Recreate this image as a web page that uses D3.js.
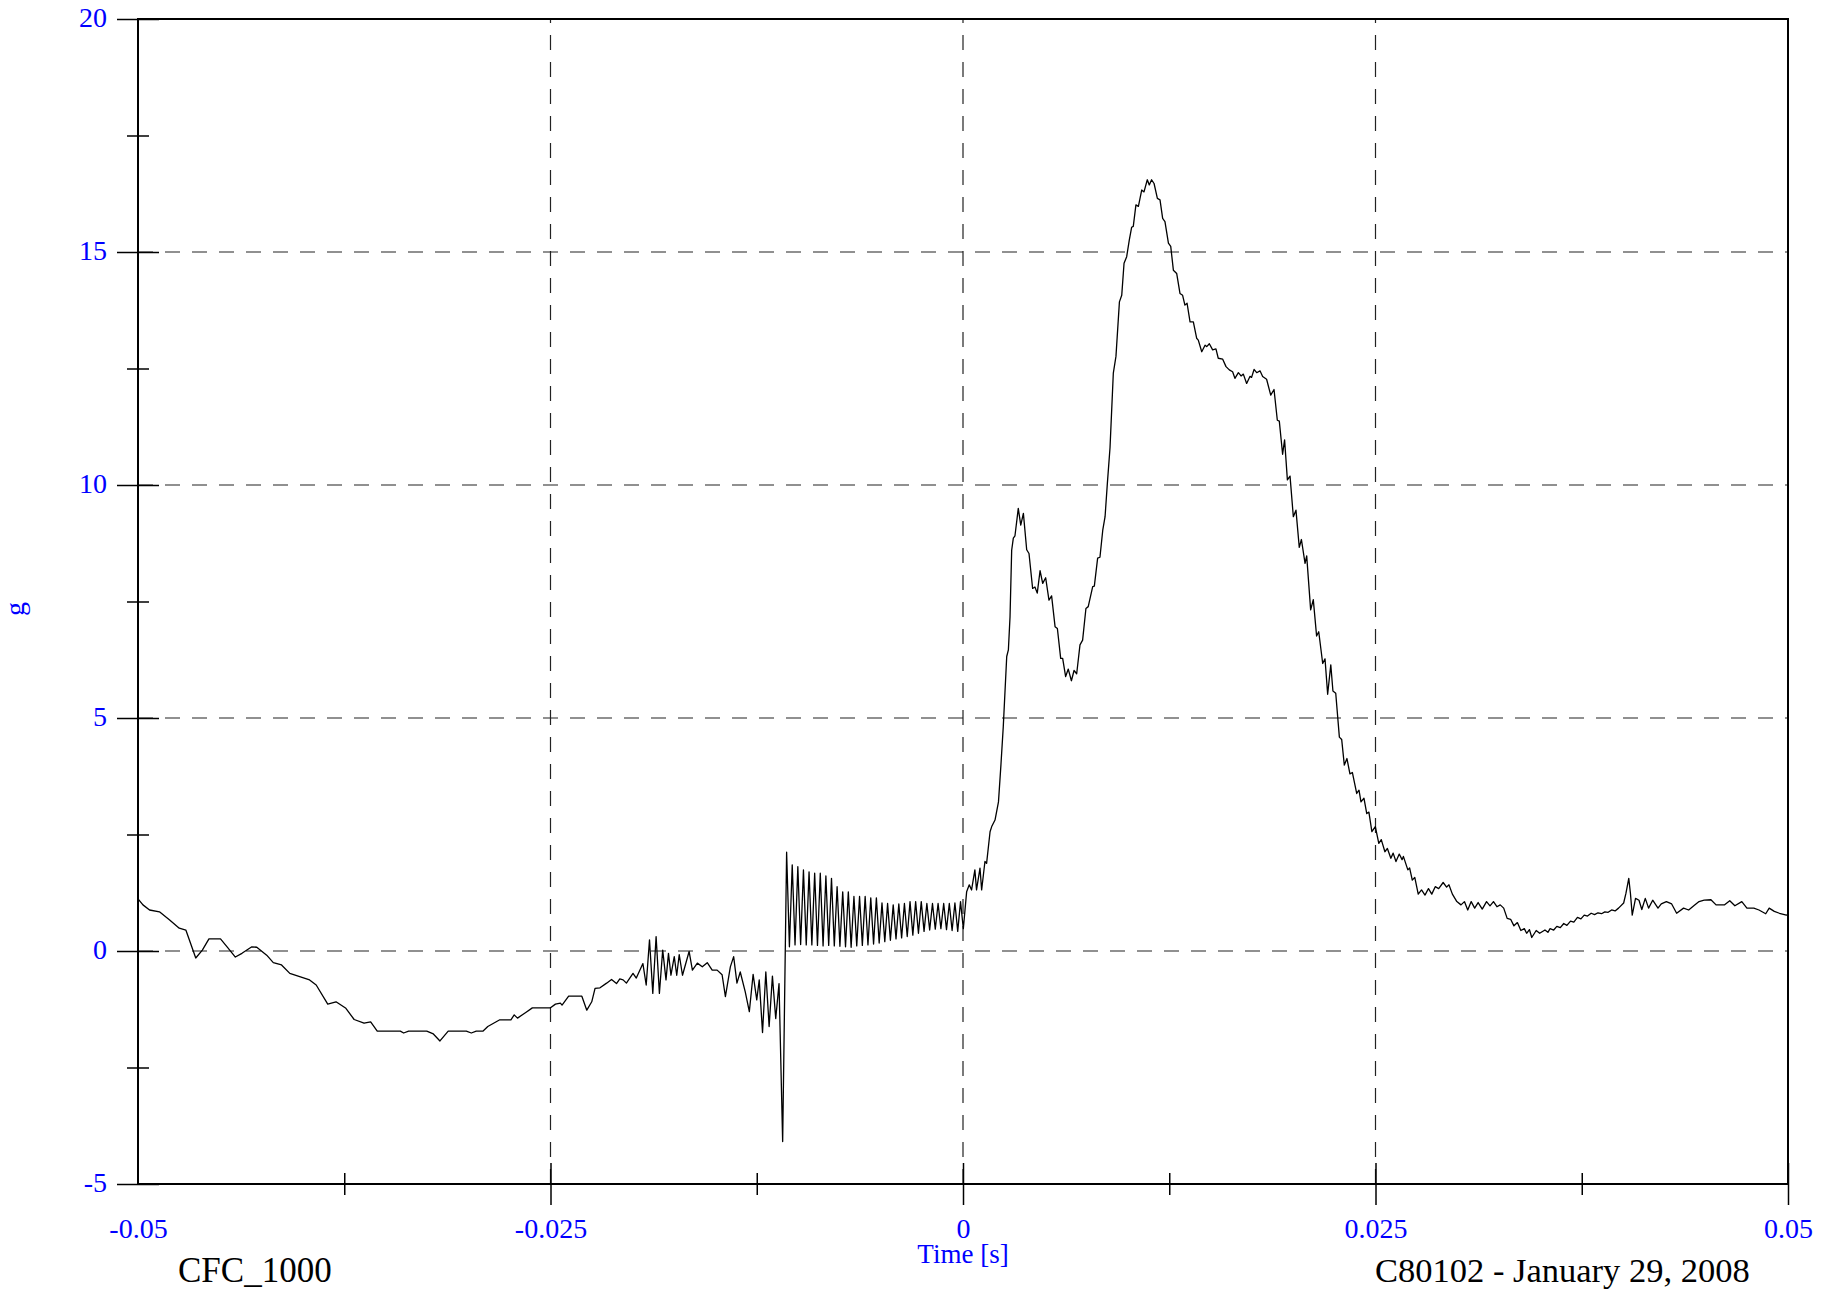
<!DOCTYPE html>
<html><head><meta charset="utf-8">
<script src="https://cdn.jsdelivr.net/npm/d3@7"></script>
<style>body{margin:0;background:#fff}</style>
</head><body>
<svg id="chart" width="1837" height="1292"></svg>
<script>
// time in milliseconds, acceleration in g
const signal = [
[-50.0,1.12],[-49.7,0.99],[-49.3,0.88],[-48.7,0.84],[-48.1,0.67],[-47.5,0.49],[-47.1,0.45],[-46.5,-0.15],
[-46.1,0.02],[-45.7,0.26],[-45.0,0.26],[-44.6,0.09],[-44.1,-0.13],[-43.7,-0.05],[-43.1,0.09],[-42.8,0.08],
[-42.2,-0.09],[-41.8,-0.25],[-41.3,-0.30],[-40.8,-0.48],[-40.2,-0.55],[-39.6,-0.62],[-39.2,-0.73],[-38.5,-1.14],
[-38.0,-1.09],[-37.4,-1.23],[-36.9,-1.47],[-36.3,-1.55],[-35.9,-1.52],[-35.5,-1.72],[-34.1,-1.72],[-33.9,-1.76],
[-33.6,-1.72],[-32.5,-1.72],[-32.1,-1.78],[-31.7,-1.93],[-31.2,-1.72],[-30.1,-1.72],[-29.8,-1.76],[-29.5,-1.72],
[-29.1,-1.72],[-28.8,-1.62],[-28.1,-1.48],[-27.4,-1.48],[-27.2,-1.37],[-27.0,-1.44],[-26.5,-1.32],[-26.1,-1.22],
[-25.0,-1.22],[-24.7,-1.14],[-24.4,-1.12],[-24.3,-1.16],[-23.9,-0.97],[-23.1,-0.97],[-22.8,-1.27],[-22.5,-1.09],
[-22.3,-0.80],[-22.0,-0.79],[-21.6,-0.69],[-21.3,-0.61],[-21.0,-0.70],[-20.8,-0.60],[-20.6,-0.62],[-20.4,-0.69],
[-20.0,-0.48],[-19.8,-0.58],[-19.4,-0.27],[-19.2,-0.73],[-19.0,0.24],[-18.8,-0.91],[-18.6,0.31],[-18.4,-0.91],
[-18.2,0.02],[-18.0,-0.62],[-17.85,-0.05],[-17.7,-0.52],[-17.5,-0.12],[-17.35,-0.52],[-17.2,-0.08],[-17.0,-0.52],
[-16.6,-0.01],[-16.4,-0.41],[-16.1,-0.26],[-15.8,-0.34],[-15.5,-0.25],[-15.2,-0.41],[-14.9,-0.41],[-14.6,-0.51],
[-14.4,-0.98],[-14.1,-0.34],[-13.9,-0.12],[-13.7,-0.69],[-13.5,-0.45],[-13.2,-0.87],[-12.95,-1.30],[-12.72,-0.50],
[-12.5,-1.05],[-12.35,-0.62],[-12.15,-1.75],[-11.95,-0.45],[-11.75,-1.62],[-11.55,-0.54],[-11.35,-1.45],[-11.15,-0.70],
[-10.93,-4.09],[-10.69,2.12],
[-10.52,0.09],[-10.35,1.85],[-10.18,0.13],[-10.01,1.81],[-9.84,0.14],[-9.67,1.74],[-9.50,0.13],[-9.33,1.70],
[-9.16,0.13],[-8.99,1.67],[-8.82,0.12],[-8.65,1.67],[-8.48,0.11],[-8.31,1.61],[-8.14,0.12],[-7.97,1.56],
[-7.80,0.11],[-7.63,1.38],[-7.46,0.10],[-7.29,1.27],[-7.12,0.09],[-6.95,1.27],[-6.78,0.08],[-6.61,1.17],
[-6.44,0.11],[-6.27,1.17],[-6.10,0.12],[-5.93,1.17],[-5.76,0.13],[-5.59,1.14],[-5.42,0.15],[-5.25,1.14],
[-5.08,0.17],[-4.91,1.03],[-4.74,0.20],[-4.57,1.02],[-4.40,0.23],[-4.23,0.99],[-4.06,0.26],[-3.89,1.01],
[-3.72,0.28],[-3.55,1.02],[-3.38,0.31],[-3.21,1.06],[-3.04,0.34],[-2.87,1.06],[-2.70,0.38],[-2.53,1.06],
[-2.36,0.42],[-2.19,1.02],[-2.02,0.45],[-1.85,1.02],[-1.68,0.47],[-1.51,1.02],[-1.34,0.48],[-1.17,1.02],
[-1.00,0.46],[-0.83,1.02],[-0.66,0.44],[-0.49,1.03],[-0.32,0.42],[-0.15,1.06],[0.02,0.48],
[0.22,1.27],[0.38,1.42],[0.52,1.31],[0.72,1.74],[0.82,1.31],[1.03,1.78],[1.13,1.31],[1.33,1.92],
[1.43,1.88],[1.64,2.56],[1.74,2.67],[1.94,2.81],[2.15,3.2],[2.30,4.0],[2.44,4.81],[2.65,6.32],
[2.75,6.46],[2.85,7.17],[2.95,8.6],[3.05,8.86],[3.15,8.91],[3.35,9.50],[3.50,9.14],[3.66,9.39],
[3.86,8.61],[4.00,8.53],[4.22,7.78],[4.36,7.81],[4.50,7.68],[4.67,8.16],[4.83,7.89],[5.01,8.01],
[5.21,7.53],[5.37,7.62],[5.58,6.96],[5.72,6.92],[5.92,6.28],[6.04,6.28],[6.22,5.89],[6.38,6.05],
[6.57,5.80],[6.73,6.02],[6.89,5.95],[7.09,6.57],[7.25,6.67],[7.45,7.35],[7.59,7.39],[7.86,7.82],
[7.96,7.83],[8.16,8.43],[8.30,8.45],[8.47,9.03],[8.61,9.32],[8.75,10.04],[8.91,10.8],[9.11,12.40],
[9.27,12.76],[9.48,13.93],[9.62,14.07],[9.76,14.76],[9.92,14.90],[10.08,15.26],[10.22,15.53],[10.32,15.55],
[10.48,16.01],[10.63,15.98],[10.83,16.33],[10.97,16.29],[11.17,16.55],[11.29,16.44],[11.43,16.55],[11.58,16.47],
[11.78,16.15],[11.94,16.12],[12.10,15.72],[12.24,15.65],[12.45,15.19],[12.59,15.12],[12.75,14.61],[12.95,14.54],
[13.15,14.11],[13.31,14.07],[13.45,13.86],[13.58,13.90],[13.76,13.50],[13.96,13.50],[14.16,13.15],[14.26,13.11],
[14.47,12.86],[14.67,13.00],[14.77,12.97],[14.93,13.03],[15.13,12.90],[15.33,12.92],[15.47,12.72],[15.74,12.70],
[15.94,12.54],[16.14,12.47],[16.34,12.43],[16.48,12.29],[16.69,12.41],[16.85,12.34],[16.99,12.38],[17.19,12.18],
[17.39,12.33],[17.49,12.31],[17.64,12.48],[17.80,12.41],[18.00,12.45],[18.16,12.33],[18.40,12.27],[18.65,11.93],
[18.85,12.05],[19.05,11.39],[19.17,11.37],[19.37,10.66],[19.49,10.97],[19.66,10.11],[19.82,10.19],[20.02,9.32],
[20.18,9.46],[20.38,8.66],[20.51,8.83],[20.73,8.32],[20.83,8.48],[21.07,7.32],[21.23,7.54],[21.43,6.76],
[21.56,6.85],[21.80,6.17],[21.94,6.27],[22.10,5.51],[22.29,6.14],[22.42,5.58],[22.59,5.53],[22.81,4.59],
[22.95,4.54],[23.11,3.99],[23.27,4.13],[23.45,3.80],[23.60,3.83],[23.86,3.38],[24.00,3.45],[24.12,3.20],
[24.30,3.28],[24.47,2.95],[24.60,2.98],[24.78,2.56],[24.99,2.67],[25.20,2.31],[25.35,2.39],[25.57,2.13],
[25.72,2.20],[25.93,1.99],[26.07,2.10],[26.24,1.92],[26.44,2.08],[26.61,1.96],[26.69,2.03],[26.96,1.74],
[27.07,1.78],[27.23,1.52],[27.38,1.58],[27.59,1.22],[27.79,1.31],[28.00,1.20],[28.21,1.34],[28.41,1.22],
[28.62,1.38],[28.83,1.34],[29.10,1.47],[29.31,1.37],[29.45,1.42],[29.66,1.22],[29.93,1.06],[30.18,0.99],
[30.39,1.06],[30.59,0.88],[30.80,1.06],[31.01,0.92],[31.22,1.04],[31.47,0.90],[31.73,1.06],[31.94,0.97],
[32.15,1.06],[32.36,0.95],[32.56,0.99],[32.77,0.92],[32.98,0.70],[33.19,0.68],[33.39,0.54],[33.60,0.61],
[33.81,0.44],[34.02,0.48],[34.16,0.38],[34.33,0.46],[34.47,0.29],[34.74,0.44],[34.95,0.38],[35.27,0.45],
[35.45,0.40],[35.58,0.48],[35.80,0.45],[35.99,0.53],[36.20,0.50],[36.41,0.59],[36.60,0.55],[36.82,0.64],
[37.02,0.62],[37.24,0.72],[37.45,0.69],[37.65,0.77],[37.85,0.75],[38.07,0.81],[38.28,0.78],[38.48,0.82],
[38.70,0.80],[38.90,0.84],[39.10,0.83],[39.31,0.88],[39.52,0.86],[39.73,0.92],
[40.04,1.03],[40.18,1.24],[40.35,1.56],[40.45,1.24],[40.56,0.77],
[40.76,1.13],[40.97,1.09],[41.14,0.89],[41.35,1.13],[41.55,0.92],[41.80,1.09],[42.12,0.92],[42.32,1.01],
[42.63,1.06],[42.95,1.01],[43.25,0.81],[43.67,0.92],[43.98,0.88],[44.29,0.97],[44.61,1.06],[44.92,1.09],
[45.33,1.10],[45.64,0.99],[46.16,0.99],[46.47,1.08],[46.78,0.97],[47.20,1.06],[47.51,0.92],[47.93,0.92],
[48.24,0.88],[48.65,0.80],[48.86,0.92],[49.17,0.85],[49.48,0.81],[49.90,0.77],[50.00,0.78]
];

const xMajorTicks = [-0.05, -0.025, 0, 0.025, 0.05];
const xTickLabels = ["-0.05", "-0.025", "0", "0.025", "0.05"];
const xMinorTicks = [-0.0375, -0.0125, 0.0125, 0.0375];
const yMajorTicks = [-5, 0, 5, 10, 15, 20];
const yTickLabels = ["-5", "0", "5", "10", "15", "20"];
const yMinorTicks = [-2.5, 2.5, 7.5, 12.5, 17.5];
const xGridValues = [-0.025, 0, 0.025];
const yGridValues = [0, 5, 10, 15];

const FONT = "'Liberation Serif','Times New Roman',serif";
const BLUE = "#0000ff";
const L = 138, R = 1788, T = 19, B = 1184;

const svg = d3.select("#chart");
svg.append("rect").attr("width",1837).attr("height",1292).attr("fill","#fff");

const x = d3.scaleLinear().domain([-0.05, 0.05]).range([L, R]);
const y = d3.scaleLinear().domain([-5, 20]).range([B, T]);

// grid
const grid = svg.append("g").attr("stroke","#222").attr("stroke-width",1.2).attr("stroke-dasharray","15,12").attr("fill","none");
grid.selectAll("line.v").data(xGridValues).enter().append("line")
  .attr("x1", d => x(d)).attr("x2", d => x(d)).attr("y1", y(-5)).attr("y2", y(20));
grid.selectAll("line.h").data(yGridValues).enter().append("line")
  .attr("x1", x(-0.05)).attr("x2", x(0.05)).attr("y1", d => y(d)).attr("y2", d => y(d));

// signal
const line = d3.line().x(d => x(d[0] / 1000)).y(d => y(d[1]));
svg.append("path").datum(signal).attr("d", line)
  .attr("fill","none").attr("stroke","#000").attr("stroke-width",1.3).attr("stroke-linejoin","round");

// frame
svg.append("rect").attr("x", L).attr("y", T).attr("width", R - L).attr("height", B - T)
  .attr("fill","none").attr("stroke","#000").attr("stroke-width",2);

// x axis major
const xAxis = svg.append("g").attr("transform", `translate(0,${B})`)
  .call(d3.axisBottom(x).tickValues(xMajorTicks).tickSize(21).tickPadding(13)
    .tickFormat((d, i) => xTickLabels[i]));
xAxis.select(".domain").remove();
xAxis.selectAll(".tick line").attr("y1", -21).attr("y2", 21).attr("stroke","#000").attr("stroke-width",1.5)
  .attr("opacity", d => d === -0.05 ? 0 : 1);
xAxis.selectAll(".tick text").attr("fill", BLUE).attr("font-family", FONT).attr("font-size", 28);

// x axis minor
const xMinor = svg.append("g").attr("transform", `translate(0,${B})`)
  .call(d3.axisBottom(x).tickValues(xMinorTicks).tickSize(11).tickFormat(""));
xMinor.select(".domain").remove();
xMinor.selectAll(".tick line").attr("y1", -11).attr("y2", 11).attr("stroke","#000").attr("stroke-width",1.5);

// y axis major
const yAxis = svg.append("g").attr("transform", `translate(${L},0)`)
  .call(d3.axisLeft(y).tickValues(yMajorTicks).tickSize(21).tickPadding(10)
    .tickFormat((d, i) => yTickLabels[i]));
yAxis.select(".domain").remove();
yAxis.selectAll(".tick line").attr("x1", 21).attr("x2", -21).attr("stroke","#000").attr("stroke-width",1.5);
yAxis.selectAll(".tick text").attr("fill", BLUE).attr("font-family", FONT).attr("font-size", 28).attr("dy","0.25em");

// y axis minor
const yMinor = svg.append("g").attr("transform", `translate(${L},0)`)
  .call(d3.axisLeft(y).tickValues(yMinorTicks).tickSize(11).tickFormat(""));
yMinor.select(".domain").remove();
yMinor.selectAll(".tick line").attr("x1", 11).attr("x2", -11).attr("stroke","#000").attr("stroke-width",1.5);

// titles
svg.append("text").attr("x", (L + R) / 2).attr("y", 1263).attr("text-anchor","middle")
  .attr("fill", BLUE).attr("font-family", FONT).attr("font-size", 27).text("Time [s]");
svg.append("text").attr("transform","translate(24,609) rotate(-90)").attr("text-anchor","middle")
  .attr("fill", BLUE).attr("font-family", FONT).attr("font-size", 28).text("g");
svg.append("text").attr("x", 178).attr("y", 1282)
  .attr("fill", "#000").attr("font-family", FONT).attr("font-size", 35).text("CFC_1000");
svg.append("text").attr("x", 1375).attr("y", 1282)
  .attr("fill", "#000").attr("font-family", FONT).attr("font-size", 34.5).text("C80102 - January 29, 2008");
</script>
</body></html>
